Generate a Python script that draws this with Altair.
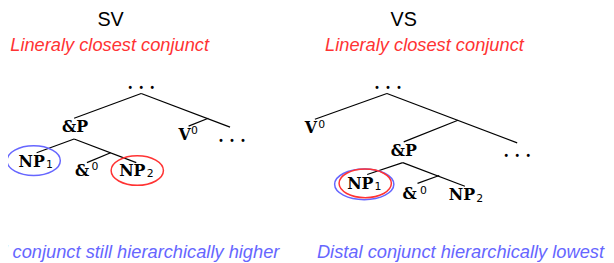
import altair as alt
import pandas as pd

# ---------------- data ----------------
panel_titles = ["SV", "VS"]
panel_title_x = [112, 409]
panel_title_y = [19, 19]

red_notes = ["Lineraly closest conjunct", "Lineraly closest conjunct"]
red_note_x = [111, 430]
red_note_y = [44, 44]

blue_note_left = ["Distal conjunct still hierarchically higher"]
blue_note_left_x = [283]
blue_note_right = ["Distal conjunct hierarchically lowest"]
blue_note_right_x = [466.5]
blue_note_y = [254]

# tree node labels (bold serif)
node_text = [". . .", "&P", "V", ". . .", "NP", "&", "NP",
             ". . .", "V", "&P", ". . .", "NP", "&", "NP"]
node_x = [143, 76, 187, 235, 32, 83, 134,
          393, 315, 409, 524, 365, 415, 468]
node_y = [83, 127, 135, 137, 162, 172, 172,
          83, 128, 151, 152, 185, 195, 196]

# sub/superscripts
script_text = ["0", "1", "0", "2", "0", "1", "0", "2"]
script_x = [197, 50, 96, 152, 326, 383, 429, 486]
script_y = [131, 165, 167, 175, 125, 188, 192, 200]

# tree branches
edge_x1 = [143, 143, 211, 75, 75, 112, 392, 392, 464, 408, 408, 445]
edge_y1 = [93, 93, 118, 139, 139, 153, 93, 93, 120, 163, 163, 176]
edge_x2 = [75, 233, 191, 37, 138, 88, 319, 524, 409, 372, 471, 423]
edge_y2 = [118, 127, 126, 153, 163, 163, 119, 143, 142, 175, 187, 184]

# highlight ellipses
ell_x = [34, 139, 369, 370]
ell_y = [161, 171, 185, 184]
ell_w = [54, 53, 60, 53]
ell_h = [30, 30, 31, 29]
ell_color = ["#6666ff", "#ff3333", "#6666ff", "#ff3333"]

RED = "#ff3333"
BLUE = "#6666ff"

# ---------------- helpers ----------------
def ellipse_path(w, h):
    r = h / w
    k = 0.5523
    return (f"M -1 0 C -1 {-k*r:.4f} {-k:.4f} {-r:.4f} 0 {-r:.4f} "
            f"C {k:.4f} {-r:.4f} 1 {-k*r:.4f} 1 0 "
            f"C 1 {k*r:.4f} {k:.4f} {r:.4f} 0 {r:.4f} "
            f"C {-k:.4f} {r:.4f} -1 {k*r:.4f} -1 0 Z")

xs = alt.Scale(domain=[8, 614], range=[0, 606], nice=False, zero=False)
ys = alt.Scale(domain=[8, 263], range=[0, 255], nice=False, zero=False)

def X(f="x"):
    return alt.X(f"{f}:Q", scale=xs, axis=None)

def Y(f="y"):
    return alt.Y(f"{f}:Q", scale=ys, axis=None)

titles_df = pd.DataFrame({"t": panel_titles, "x": panel_title_x, "y": panel_title_y})
red_df = pd.DataFrame({"t": red_notes, "x": red_note_x, "y": red_note_y})
bl_df = pd.DataFrame({"t": blue_note_left, "x": blue_note_left_x, "y": blue_note_y})
br_df = pd.DataFrame({"t": blue_note_right, "x": blue_note_right_x, "y": blue_note_y})
node_df = pd.DataFrame({"t": node_text, "x": node_x, "y": node_y})
script_df = pd.DataFrame({"t": script_text, "x": script_x, "y": script_y})
edge_df = pd.DataFrame({"x": edge_x1, "y": edge_y1, "x2": edge_x2, "y2": edge_y2})
ell_df = pd.DataFrame({
    "x": ell_x, "y": ell_y, "c": ell_color,
    "shape": [ellipse_path(w, h) for w, h in zip(ell_w, ell_h)],
    "size": [w * w for w in ell_w],
})

titles = alt.Chart(titles_df).mark_text(
    font="Liberation Sans", fontSize=20, color="black", baseline="middle"
).encode(x=X(), y=Y(), text="t:N")

red = alt.Chart(red_df).mark_text(
    font="Liberation Sans", fontSize=18.5, fontStyle="italic", color=RED, baseline="middle"
).encode(x=X(), y=Y(), text="t:N")

blue_l = alt.Chart(bl_df).mark_text(
    font="Liberation Sans", fontSize=18.5, fontStyle="italic", color=BLUE,
    baseline="middle", align="right"
).encode(x=X(), y=Y(), text="t:N")

blue_r = alt.Chart(br_df).mark_text(
    font="Liberation Sans", fontSize=18.5, fontStyle="italic", color=BLUE,
    baseline="middle", align="center"
).encode(x=X(), y=Y(), text="t:N")

edges = alt.Chart(edge_df).mark_rule(color="black", strokeWidth=1.2).encode(
    x=X(), y=Y(), x2="x2:Q", y2="y2:Q"
)

nodes = alt.Chart(node_df).mark_text(
    font="DejaVu Serif", fontSize=16, fontWeight="bold", color="black", baseline="middle"
).encode(x=X(), y=Y(), text="t:N")

scripts = alt.Chart(script_df).mark_text(
    font="DejaVu Sans", fontSize=11, color="black", baseline="middle"
).encode(x=X(), y=Y(), text="t:N")

ellipses = alt.Chart(ell_df).mark_point(filled=False, strokeWidth=1.5, opacity=1).encode(
    x=X(), y=Y(),
    shape=alt.Shape("shape:N", scale=None),
    size=alt.Size("size:Q", scale=None),
    color=alt.Color("c:N", scale=None),
)

chart = alt.layer(
    edges, ellipses, nodes, scripts, titles, red, blue_l, blue_r
).properties(
    width=606, height=255,
    autosize=alt.AutoSizeParams(type="none"),
    padding=0,
).configure_view(stroke=None)

chart.save("out.html", embed_options={"renderer": "svg", "actions": False})
